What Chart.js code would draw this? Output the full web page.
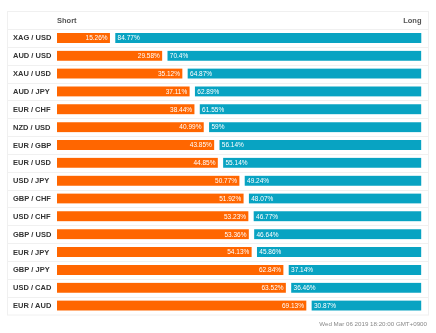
<!DOCTYPE html>
<html>
<head>
<meta charset="utf-8">
<script src="https://cdn.jsdelivr.net/npm/chart.js@4"></script>
<style>
  html, body { margin: 0; padding: 0; background: #fff; }
  #wrap { width: 436px; height: 333px; position: relative; }
</style>
</head>
<body>
<div id="wrap"><canvas id="ratioChart" width="436" height="333"></canvas></div>
<script>
// Positions per currency pair (percent of traders short / long)
const pairs = ["XAG / USD", "AUD / USD", "XAU / USD", "AUD / JPY", "EUR / CHF", "NZD / USD", "EUR / GBP", "EUR / USD",
    "USD / JPY", "GBP / CHF", "USD / CHF", "GBP / USD", "EUR / JPY", "GBP / JPY", "USD / CAD", "EUR / AUD"];
const shortPct = [15.26, 29.58, 35.12, 37.11, 38.44, 40.99, 43.85, 44.85, 50.77, 51.92, 53.23, 53.36, 54.13, 62.84, 63.52, 69.13];
const longPct = [84.77, 70.4, 64.87, 62.89, 61.55, 59, 56.14, 55.14, 49.24, 48.07, 46.77, 46.64, 45.86, 37.14, 36.46, 30.87];
const updated = "Wed Mar 06 2019 18:20:00 GMT+0900";

const ORANGE = '#ff6600';
const BLUE = '#08a3c2';
const FONT = '"Liberation Sans", Arial, sans-serif';

// frame, header, row separators and pair names
const tablePlugin = {
    id: 'table',
    beforeDatasetsDraw(chart) {
        const ctx = chart.ctx;
        const area = chart.chartArea;
        const y = chart.scales.y;
        const step = y.getPixelForValue(1) - y.getPixelForValue(0);
        ctx.save();
        ctx.strokeStyle = '#f0f0f0';
        ctx.lineWidth = 1;
        ctx.strokeRect(7.5, 11.5, 421, area.bottom - 11);
        ctx.beginPath();
        for (let i = 0; i < pairs.length; i++) {
            const yy = Math.round(y.getPixelForValue(i) - step / 2) + 0.5;
            ctx.moveTo(8, yy);
            ctx.lineTo(428, yy);
        }
        ctx.stroke();

        ctx.fillStyle = '#555';
        ctx.font = 'bold 7.5px ' + FONT;
        ctx.textBaseline = 'middle';
        ctx.textAlign = 'left';
        ctx.fillText('Short', area.left, 20.5);
        ctx.textAlign = 'right';
        ctx.fillText('Long', area.right, 20.5);

        ctx.fillStyle = '#333';
        ctx.textAlign = 'left';
        pairs.forEach((p, i) => ctx.fillText(p, 13, y.getPixelForValue(i) + 0.5));

        ctx.fillStyle = '#888';
        ctx.font = '6.2px ' + FONT;
        ctx.textAlign = 'right';
        ctx.fillText(updated, 427, 324);
        ctx.restore();
    },
    afterDatasetsDraw(chart) {
        const ctx = chart.ctx;
        ctx.save();
        ctx.fillStyle = '#fff';
        ctx.font = '6.5px ' + FONT;
        ctx.textBaseline = 'middle';
        chart.getDatasetMeta(0).data.forEach((bar, i) => {
            ctx.textAlign = 'right';
            ctx.fillText(shortPct[i] + '%', bar.x - 5, bar.y + 0.5);
        });
        chart.getDatasetMeta(1).data.forEach((bar, i) => {
            ctx.textAlign = 'left';
            ctx.fillText(longPct[i] + '%', bar.base + 5, bar.y + 0.5);
        });
        ctx.restore();
    }
};

new Chart(document.getElementById('ratioChart'), {
    type: 'bar',
    data: {
        labels: pairs,
        datasets: [{
            label: 'Short',
            data: shortPct,
            backgroundColor: ORANGE,
            borderColor: '#fff',
            borderWidth: { top: 0, right: 3, bottom: 0, left: 0 },
            borderSkipped: false,
            barThickness: 10
        }, {
            label: 'Long',
            data: longPct,
            backgroundColor: BLUE,
            borderColor: '#fff',
            borderWidth: { top: 0, right: 0, bottom: 0, left: 3 },
            borderSkipped: false,
            barThickness: 10
        }]
    },
    options: {
        indexAxis: 'y',
        responsive: false,
        animation: false,
        layout: { padding: { left: 57, right: 14.5, top: 29, bottom: 18.5 } },
        scales: {
            x: { stacked: true, min: 0, max: 100, display: false },
            y: { stacked: true, display: false }
        },
        plugins: {
            legend: { display: false },
            tooltip: { enabled: false }
        }
    },
    plugins: [tablePlugin]
});
</script>
</body>
</html>
